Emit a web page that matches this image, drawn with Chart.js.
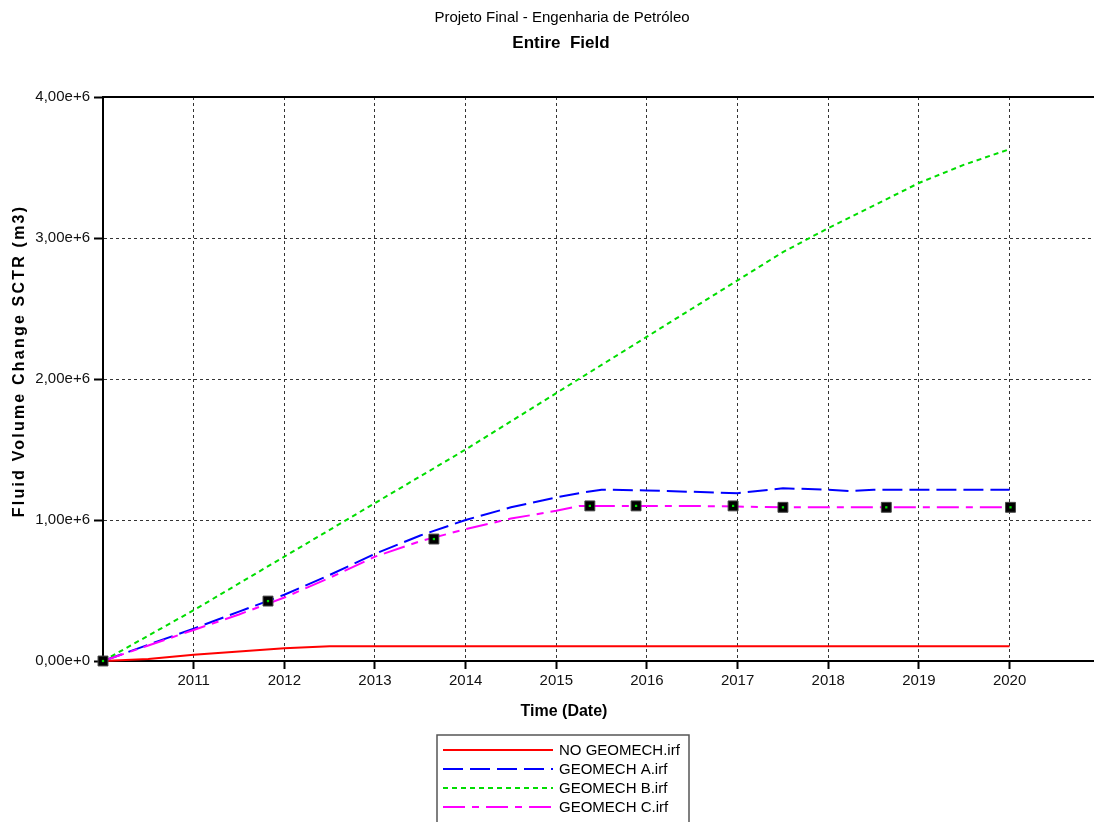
<!DOCTYPE html>
<html>
<head>
<meta charset="utf-8">
<script src="https://cdn.jsdelivr.net/npm/chart.js@4.4.1/dist/chart.umd.min.js"></script>
<style>
  html, body { margin: 0; padding: 0; background: #fff; }
  canvas { display: block; }
</style>
</head>
<body>
<canvas id="chart" width="1094" height="822"></canvas>
<script>
const chartTitle = 'Projeto Final - Engenharia de Petróleo';
const chartSubtitle = 'Entire  Field';
const xAxisTitle = 'Time (Date)';
const yAxisTitle = 'Fluid Volume Change SCTR (m3)';

// time in decimal years
const times = [2010, 2010.5, 2011, 2011.5, 2012, 2012.5, 2013, 2013.5, 2014, 2014.5, 2015, 2015.25,
  2015.5, 2016, 2016.5, 2017, 2017.5, 2018, 2018.25, 2018.5, 2019, 2019.5, 2020];

// fluid volume change, m3
const noGeomech = [0, 15000, 45000, 68000, 90000, 105000, 105000, 105000, 105000, 105000, 105000, 105000,
  105000, 105000, 105000, 105000, 105000, 105000, 105000, 105000, 105000, 105000, 105000];
const geomechA = [0, 115000, 230000, 350000, 470000, 610000, 760000, 890000, 1000000, 1090000, 1160000, 1190000,
  1215000, 1210000, 1200000, 1190000, 1225000, 1215000, 1205000, 1215000, 1215000, 1215000, 1215000];
const geomechB = [0, 180000, 360000, 550000, 740000, 930000, 1120000, 1310000, 1500000, 1700000, 1900000, 2000000,
  2100000, 2300000, 2500000, 2700000, 2900000, 3070000, 3150000, 3230000, 3390000, 3520000, 3630000];
const geomechC = [0, 110000, 220000, 330000, 450000, 590000, 740000, 850000, 935000, 1010000, 1065000, 1100000,
  1100000, 1100000, 1100000, 1095000, 1090000, 1090000, 1090000, 1090000, 1090000, 1090000, 1090000];

// observed points (black squares)
const obsTimes = [2010, 2011.82, 2013.65, 2015.37, 2015.88, 2016.95, 2017.5, 2018.64, 2020.01];
const obsValues = [0, 425000, 865000, 1100000, 1100000, 1100000, 1090000, 1090000, 1090000];

const xTickYears = [2011, 2012, 2013, 2014, 2015, 2016, 2017, 2018, 2019, 2020];
const seriesNames = ['NO GEOMECH.irf', 'GEOMECH A.irf', 'GEOMECH B.irf', 'GEOMECH C.irf'];

const FONT = "'Liberation Sans', Arial, sans-serif";

function pts(xs, ys) {
  return xs.map((x, i) => ({ x: x, y: ys[i] }));
}

function sciLabel(v) {
  if (v === 0) return '0,00e+0';
  const exp = Math.floor(Math.log10(Math.abs(v)));
  return (v / Math.pow(10, exp)).toFixed(2).replace('.', ',') + 'e+' + exp;
}

function lineSet(label, ys, color, dash, order) {
  return {
    label: label,
    data: pts(times, ys),
    borderColor: color,
    backgroundColor: color,
    borderWidth: 2,
    borderDash: dash,
    pointRadius: 0,
    tension: 0,
    fill: false,
    order: order
  };
}

const extras = {
  id: 'extras',
  afterDraw(chart) {
    const ctx = chart.ctx;
    const area = chart.chartArea;
    ctx.save();

    // titles
    ctx.fillStyle = '#000';
    ctx.textAlign = 'center';
    ctx.textBaseline = 'middle';
    ctx.font = '15px ' + FONT;
    ctx.fillText(chartTitle, 562, 18);
    ctx.font = 'bold 17px ' + FONT;
    ctx.fillText(chartSubtitle, 561, 43);

    // x axis title
    ctx.font = 'bold 16px ' + FONT;
    ctx.fillText(xAxisTitle, 564, 712);

    // top frame line
    ctx.strokeStyle = '#000';
    ctx.lineWidth = 2;
    ctx.beginPath();
    ctx.moveTo(area.left - 1, area.top);
    ctx.lineTo(chart.width, area.top);
    ctx.stroke();

    // y axis title
    ctx.save();
    ctx.translate(20, 361);
    ctx.rotate(-Math.PI / 2);
    ctx.font = 'bold 16px ' + FONT;
    if ('letterSpacing' in ctx) ctx.letterSpacing = '2.2px';
    ctx.fillText(yAxisTitle, 0, 0);
    ctx.restore();

    // legend box
    const bx = 437, by = 735, bw = 252;
    ctx.fillStyle = '#fff';
    ctx.fillRect(bx, by, bw, chart.height - by + 5);
    ctx.strokeStyle = '#555';
    ctx.lineWidth = 1.5;
    ctx.strokeRect(bx, by, bw, chart.height - by + 5);
    ctx.font = '15px ' + FONT;
    ctx.textAlign = 'left';
    ctx.fillStyle = '#000';
    seriesNames.forEach((name, i) => {
      const ds = chart.data.datasets[i];
      const y = 750 + i * 19;
      ctx.strokeStyle = ds.borderColor;
      ctx.lineWidth = 2;
      ctx.setLineDash(ds.borderDash || []);
      ctx.beginPath();
      ctx.moveTo(443, y);
      ctx.lineTo(553, y);
      ctx.stroke();
      ctx.setLineDash([]);
      ctx.fillText(name, 559, y + 1);
    });
    ctx.restore();
  }
};

new Chart(document.getElementById('chart'), {
  type: 'line',
  data: {
    datasets: [
      lineSet(seriesNames[0], noGeomech, '#ff0000', [], 4),
      lineSet(seriesNames[1], geomechA, '#0000ff', [20, 7], 3),
      lineSet(seriesNames[2], geomechB, '#00dd00', [5, 4], 2),
      lineSet(seriesNames[3], geomechC, '#ff00ff', [22, 7, 7, 7], 1),
      {
        label: 'obs',
        data: pts(obsTimes, obsValues),
        showLine: false,
        pointStyle: 'rect',
        pointRadius: 7,
        pointBackgroundColor: '#000',
        pointBorderColor: '#444',
        pointBorderWidth: 1,
        order: 0
      },
      {
        label: 'obs-center',
        data: pts(obsTimes, obsValues),
        showLine: false,
        pointStyle: 'rect',
        pointRadius: 1.6,
        pointBackgroundColor: '#00e000',
        pointBorderWidth: 0,
        order: -1
      }
    ]
  },
  options: {
    responsive: false,
    animation: false,
    devicePixelRatio: 1,
    clip: false,
    layout: { autoPadding: false, padding: { top: 97, left: 0, right: 1, bottom: 100 } },
    plugins: {
      legend: { display: false },
      title: { display: false },
      tooltip: { enabled: false }
    },
    scales: {
      x: {
        type: 'linear',
        min: 2010,
        max: 2020.92,
        afterBuildTicks: (scale) => { scale.ticks = xTickYears.map(v => ({ value: v })); },
        afterFit: (scale) => {
          scale.height = 61;
          scale.paddingLeft = 0;
          scale.paddingRight = 0;
        },
        grid: {
          color: '#333',
          lineWidth: 1,
          tickLength: 8,
          tickWidth: 2,
          tickColor: '#000'
        },
        border: { display: true, color: '#000', width: 2, dash: [3, 3] },
        ticks: {
          color: '#111',
          padding: 3,
          font: { family: FONT, size: 15 },
          maxRotation: 0,
          callback: (v) => String(v)
        },
        title: { display: false }
      },
      y: {
        min: 0,
        max: 4000000,
        afterFit: (scale) => { scale.width = 103; },
        grid: {
          color: '#333',
          lineWidth: 1,
          tickLength: 9,
          tickWidth: 2,
          tickColor: '#000'
        },
        border: { display: true, color: '#000', width: 2, dash: [3, 3] },
        ticks: {
          stepSize: 1000000,
          color: '#111',
          padding: 4,
          font: { family: FONT, size: 15 },
          callback: (v) => sciLabel(v)
        },
        title: { display: false }
      }
    }
  },
  plugins: [extras]
});
</script>
</body>
</html>
